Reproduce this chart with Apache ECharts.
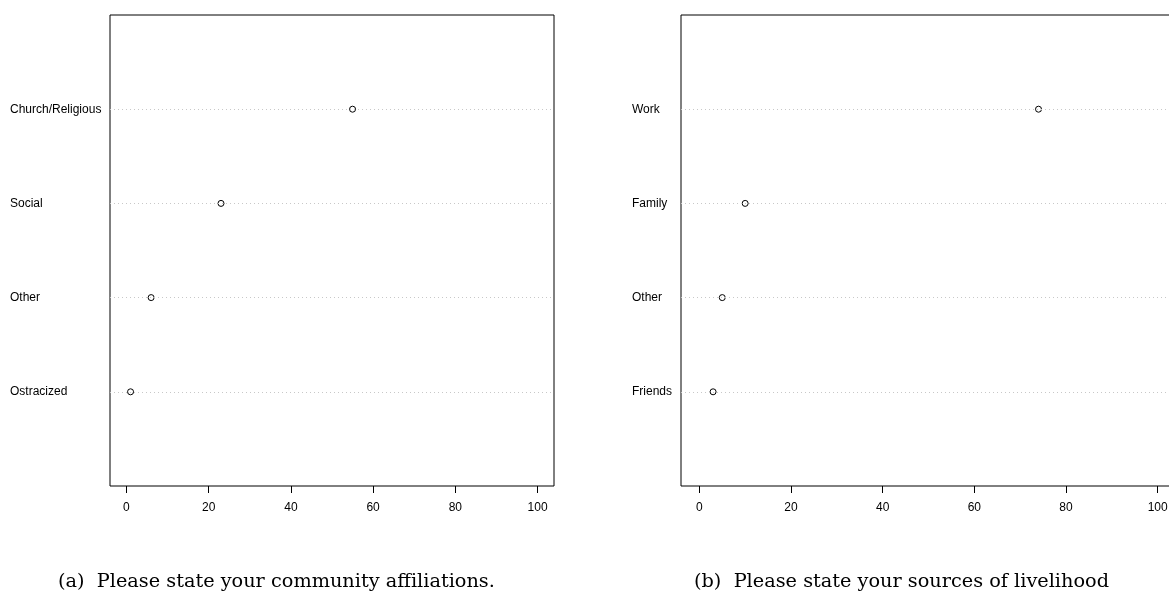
<!DOCTYPE html>
<html>
<head>
<meta charset="utf-8">
<script src="https://cdn.jsdelivr.net/npm/echarts@6/dist/echarts.min.js"></script>
<style>
html,body{margin:0;padding:0;background:#fff;}
#chart{width:1169px;height:596px;}
</style>
</head>
<body>
<div id="chart"></div>
<script>
// Panel (a): community affiliations (top to bottom)
const catsA = ["Church/Religious", "Social", "Other", "Ostracized"];
const valsA = [55, 23, 6, 1];
// Panel (b): sources of livelihood (top to bottom)
const catsB = ["Work", "Family", "Other", "Friends"];
const valsB = [74, 10, 5, 3];
const xTicks = [0, 20, 40, 60, 80, 100];
const captionA = "(a)  Please state your community affiliations.";
const captionB = "(b)  Please state your sources of livelihood";

// position index: top category at 4, bottom at 1
function pts(vals) { return vals.map((v, i) => [v, vals.length - i]); }
function labelFor(cats) {
  return function (v) { const i = cats.length - v; return cats[i] !== undefined ? cats[i] : ''; };
}
const yPos = [1, 2, 3, 4];

const chart = echarts.init(document.getElementById('chart'), null, {renderer: 'canvas'});

function xAxis(gi) {
  return {
    type: 'value', gridIndex: gi, min: -4, max: 104,
    axisLine: {show: false},
    axisTick: {show: true, length: 7, customValues: xTicks, lineStyle: {color: '#000', width: 1}},
    axisLabel: {customValues: xTicks, margin: 16, color: '#000', fontSize: 12, fontFamily: 'Liberation Sans, Arial, sans-serif'},
    splitLine: {show: false}
  };
}
function yAxis(gi, cats, margin) {
  return {
    type: 'value', gridIndex: gi, min: 0, max: 5,
    axisLine: {show: false}, axisTick: {show: false}, splitLine: {show: false},
    axisLabel: {customValues: yPos, formatter: labelFor(cats), align: 'left', margin: margin,
      color: '#000', fontSize: 12, fontFamily: 'Liberation Sans, Arial, sans-serif'}
  };
}
function series(gi, vals) {
  return {
    type: 'scatter', xAxisIndex: gi, yAxisIndex: gi, data: pts(vals),
    symbol: 'circle', symbolSize: 6, silent: true,
    itemStyle: {color: '#fff', borderColor: '#000', borderWidth: 1, opacity: 1},
    markLine: {
      silent: true, symbol: ['none', 'none'], animation: false,
      label: {show: false},
      lineStyle: {type: [1, 3], color: '#c8c8c8', width: 1},
      data: yPos.map(p => ({yAxis: p}))
    },
    z: 3
  };
}

chart.setOption({
  animation: false,
  backgroundColor: '#fff',
  grid: [
    {left: 110, top: 15, width: 444, height: 471, show: true, borderColor: '#000', borderWidth: 1, backgroundColor: 'transparent', containLabel: false, outerBoundsMode: 'none'},
    {left: 681, top: 15, width: 495, height: 471, show: true, borderColor: '#000', borderWidth: 1, backgroundColor: 'transparent', containLabel: false, outerBoundsMode: 'none'}
  ],
  xAxis: [xAxis(0), xAxis(1)],
  yAxis: [yAxis(0, catsA, 100), yAxis(1, catsB, 49)],
  series: [series(0, valsA), series(1, valsB)],
  graphic: [
    {type: 'text', left: 58, top: 572, style: {text: captionA, fill: '#000', fontSize: 19.3, fontFamily: 'DejaVu Serif, serif'}},
    {type: 'text', left: 694, top: 572, style: {text: captionB, fill: '#000', fontSize: 19.3, fontFamily: 'DejaVu Serif, serif'}}
  ]
});
</script>
</body>
</html>
